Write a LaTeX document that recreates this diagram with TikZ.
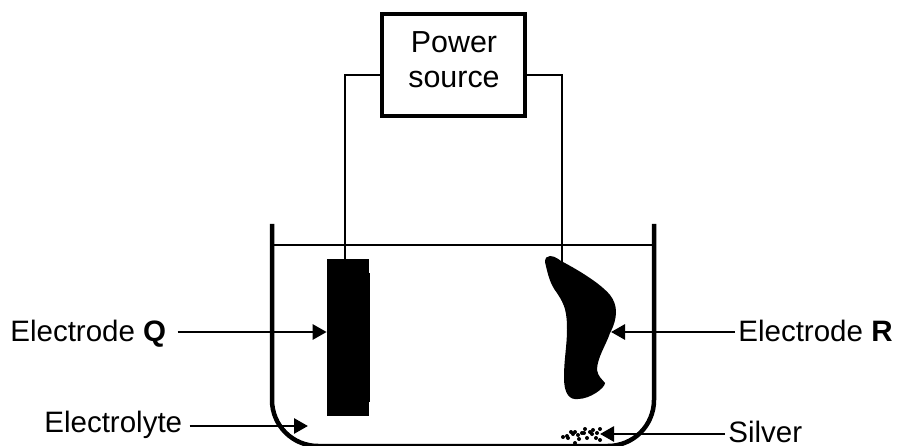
\documentclass[tikz,border=0pt]{standalone}
\usepackage{fontspec}
\setmainfont{Liberation Sans}
\usetikzlibrary{arrows.meta}
\begin{document}
\begin{tikzpicture}
        [x=0.02cm, y=-0.02cm,
        label/.style={inner sep=0pt, font=\fontsize{16.8}{19.8}\selectfont},
        wire/.style={line width=0.04cm},
        pointer/.style={line width=0.055cm, -{Triangle[length=0.28cm, width=0.3cm]}},
        blob/.style={fill=black, draw=none}]
        \useasboundingbox (0,0) rectangle (897,446);
        \node[draw, line width=0.085cm, minimum width=2.86cm, minimum height=2.04cm, inner sep=0pt] (P) at (453.5,65) {};
        \node[inner sep=0pt, align=center, font=\fontsize{17.3}{19.8}\selectfont] (T) at (454,60) {Power\\source};
        \node[label, anchor=base west] (Q) at (10,341) {Electrode \textbf{Q}};
        \node[label, anchor=base west] (R) at (738,341) {Electrode \textbf{R}};
        \node[label, anchor=base west] (E) at (44,432) {Electrolyte};
        \node[label, anchor=base west] (S) at (728,442) {Silver};
        \node[blob, minimum width=0.84cm, minimum height=3.14cm, inner sep=0pt] (A) at (348,337.5) {};
        \coordinate (B) at (562,262);
        \coordinate (L) at (308,426);
        \coordinate (G) at (600,434);

        % beaker and liquid level
        \draw[line width=0.09cm] (272,224) -- (272,400) arc (180:90:46) -- (608,446) arc (90:0:46) -- (654,224);
        \draw[wire] (272,245) -- (654,245);

        % electrodes
        \fill (369,273) rectangle (370,402);
        \fill (550,256) .. controls (556,256) and (560,261) .. (563,262)
            .. controls (578,270) and (600,283) .. (610,295)
            .. controls (618,305) and (618,318) .. (610,333)
            .. controls (606,345) and (597,358) .. (597,370)
            .. controls (598,377) and (603,380) .. (605,383)
            .. controls (605,388) and (590,399) .. (578,399)
            .. controls (570,400) and (564,395) .. (564,377)
            .. controls (564,360) and (567,345) .. (567,330)
            .. controls (567,312) and (565,305) .. (557,293)
            .. controls (550,284) and (548,275) .. (545,262)
            .. controls (545,258) and (547,256) .. (550,256) -- cycle;

        % wires
        \draw[wire] (P.west |- 0,75) -- (345,75) -- (345,259);
        \draw[wire] (P.east |- 0,75) -- (562,75) -- (B);

        % silver
        \foreach \x/\y in {563/437, 568/438, 571/432, 575/432, 578/435, 573/434, 575/443, 579/439, 582/433, 585/429, 584/433, 587/438, 590/432, 593/430, 596/438, 600/440, 597/433, 600/429, 567/436, 592/434}
            \fill (\x,\y) circle (0.04cm);

        % pointers
        \draw[pointer, shorten <=0.22cm] (Q.east |- 0,332) -- (A.west |- 0,332);
        \draw[pointer, shorten <=0.06cm] (R.west |- 0,332) -- (611,332);
        \draw[pointer, shorten <=0.14cm] (E.east |- 0,426) -- (L);
        \draw[pointer, shorten <=0.06cm] (S.west |- 0,434) -- (G);
    \end{tikzpicture}
\end{document}
